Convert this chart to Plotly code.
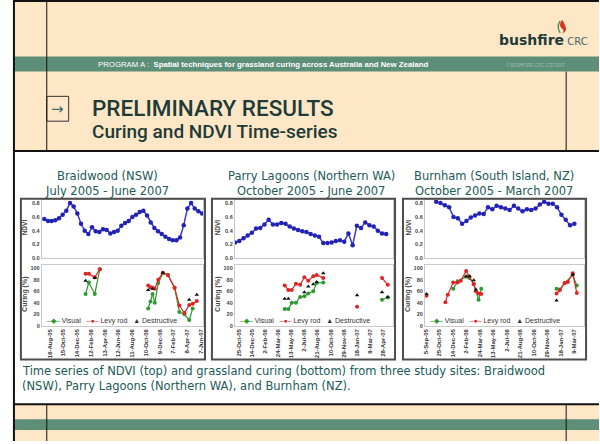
import plotly.graph_objects as go

W, H = 600, 444
def X(p): return p / W
def Y(p): return 1 - p / H

# ---------------- data ----------------
site_titles = ["Braidwood (NSW)", "Parry Lagoons (Northern WA)", "Burnham (South Island, NZ)"]
site_periods = ["July 2005 - June 2007", "October 2005 - June 2007", "October 2005 - March 2007"]

# Braidwood
braid_range = ["2005-07-13", "2007-06-16"]
braid_ticks = ["2005-08-16", "2005-10-15", "2005-12-14", "2006-02-12", "2006-04-13", "2006-06-12",
               "2006-08-11", "2006-10-10", "2006-12-09", "2007-02-07", "2007-04-08", "2007-06-07"]
braid_tick_labels = ["16-Aug-05", "15-Oct-05", "14-Dec-05", "12-Feb-06", "13-Apr-06", "12-Jun-06",
                     "11-Aug-06", "10-Oct-06", "9-Dec-06", "7-Feb-07", "8-Apr-07", "7-Jun-07"]
braid_ndvi_dates = ["2005-07-24", "2005-08-09", "2005-08-25", "2005-09-10", "2005-09-26", "2005-10-12",
                    "2005-10-28", "2005-11-13", "2005-11-29", "2005-12-15", "2005-12-31", "2006-01-16",
                    "2006-02-01", "2006-02-17", "2006-03-05", "2006-03-21", "2006-04-06", "2006-04-22",
                    "2006-05-08", "2006-05-24", "2006-06-09", "2006-06-25", "2006-07-11", "2006-07-27",
                    "2006-08-12", "2006-08-28", "2006-09-13", "2006-09-29", "2006-10-15", "2006-10-31",
                    "2006-11-16", "2006-12-02", "2006-12-18", "2007-01-03", "2007-01-19", "2007-02-04",
                    "2007-02-20", "2007-03-08", "2007-03-24", "2007-04-09", "2007-04-25", "2007-05-11",
                    "2007-05-27", "2007-06-12"]
braid_ndvi = [0.57, 0.54, 0.54, 0.55, 0.58, 0.63, 0.69, 0.80, 0.75, 0.65, 0.50, 0.40,
              0.35, 0.45, 0.39, 0.38, 0.42, 0.41, 0.36, 0.38, 0.40, 0.47, 0.51, 0.54,
              0.60, 0.63, 0.67, 0.69, 0.62, 0.52, 0.44, 0.39, 0.35, 0.31, 0.28, 0.26,
              0.26, 0.30, 0.48, 0.72, 0.80, 0.72, 0.68, 0.65]
braid_visual_dates = ["2006-01-20", "2006-02-03", "2006-03-01", "2006-03-23", "2006-06-01", "2006-10-20",
                      "2006-10-30", "2006-11-08", "2006-11-18", "2006-12-03", "2006-12-23", "2007-01-14",
                      "2007-02-12", "2007-03-05", "2007-03-27", "2007-04-17", "2007-05-02"]
braid_visual = [55, 75, 55, 98, None, 30, 42, 55, 40, 74, 91, 88, 66, 24, 20, 10, 30]
braid_levy_dates = ["2006-01-20", "2006-02-03", "2006-03-01", "2006-03-23", "2006-06-01", "2006-10-20",
                    "2006-10-30", "2006-11-08", "2006-11-18", "2006-12-03", "2006-12-23", "2007-01-14",
                    "2007-02-12", "2007-03-05", "2007-03-27", "2007-04-17", "2007-05-02", "2007-05-20"]
braid_levy = [90, 90, 84, 98, None, 70, 67, 66, 64, 80, 92, 88, 66, 35, 22, 36, 38, 43]
braid_destr_dates = ["2006-01-20", "2006-03-01", "2006-10-20", "2006-11-08", "2006-12-23", "2007-04-17", "2007-05-20"]
braid_destr = [78, 83, 62, 64, 92, 45, 54]

# Parry Lagoons
parry_range = ["2005-10-10", "2007-06-05"]
parry_ticks = ["2005-10-25", "2005-12-14", "2006-02-02", "2006-03-24", "2006-05-13", "2006-07-02",
               "2006-08-21", "2006-10-10", "2006-11-29", "2007-01-18", "2007-03-09", "2007-04-28"]
parry_tick_labels = ["25-Oct-05", "14-Dec-05", "2-Feb-06", "24-Mar-06", "13-May-06", "2-Jul-06",
                     "21-Aug-06", "10-Oct-06", "29-Nov-06", "18-Jan-07", "9-Mar-07", "28-Apr-07"]
parry_ndvi_dates = ["2005-10-11", "2005-10-27", "2005-11-12", "2005-11-28", "2005-12-14", "2005-12-30",
                    "2006-01-15", "2006-01-31", "2006-02-16", "2006-03-04", "2006-03-20", "2006-04-05",
                    "2006-04-21", "2006-05-07", "2006-05-23", "2006-06-08", "2006-06-24", "2006-07-10",
                    "2006-07-26", "2006-08-11", "2006-08-27", "2006-09-12", "2006-09-28", "2006-10-14",
                    "2006-10-30", "2006-11-15", "2006-12-01", "2006-12-17", "2007-01-02", "2007-01-18",
                    "2007-02-03", "2007-02-19", "2007-03-07", "2007-03-23", "2007-04-08", "2007-04-24",
                    "2007-05-10"]
parry_ndvi = [0.23, 0.25, 0.29, 0.33, 0.37, 0.43, 0.44, 0.49, 0.56, 0.49, 0.49, 0.51,
              0.50, 0.46, 0.43, 0.41, 0.39, 0.38, 0.35, 0.33, 0.31, 0.22, 0.22, 0.23,
              0.25, 0.26, 0.24, 0.36, 0.19, 0.47, 0.44, 0.52, 0.48, 0.46, 0.40, 0.36, 0.35]
parry_visual_dates = ["2006-04-18", "2006-05-02", "2006-05-15", "2006-05-31", "2006-06-16", "2006-07-02",
                      "2006-07-17", "2006-08-05", "2006-08-18", "2006-09-12", "2006-12-01", "2007-04-24",
                      "2007-05-16"]
parry_visual = [29, 29, 40, 40, 50, 51, 56, 60, 74, 75, None, 45, 49]
parry_levy_dates = ["2006-04-18", "2006-05-02", "2006-05-15", "2006-05-31", "2006-06-16", "2006-07-02",
                    "2006-07-17", "2006-08-05", "2006-08-18", "2006-09-12", "2006-11-01", "2007-01-19",
                    "2007-03-01", "2007-04-24", "2007-05-16"]
parry_levy = [70, 62, 62, 73, 71, 84, 78, 86, 88, 83, None, 33, None, 83, 71]
parry_destr_dates = ["2006-04-18", "2006-05-02", "2006-07-02", "2006-07-17", "2006-08-05", "2006-08-18",
                     "2006-09-12", "2007-01-19", "2007-04-24", "2007-05-16"]
parry_destr = [47, 47, 58, 68, 72, 76, 91, 53, 58, 50]

# Burnham
burn_range = ["2005-09-01", "2007-04-14"]
burn_ticks = ["2005-09-05", "2005-10-25", "2005-12-14", "2006-02-02", "2006-03-24", "2006-05-13",
              "2006-07-02", "2006-08-21", "2006-10-10", "2006-11-29", "2007-01-18", "2007-03-09"]
burn_tick_labels = ["5-Sep-05", "25-Oct-05", "14-Dec-05", "2-Feb-06", "24-Mar-06", "13-May-06",
                    "2-Jul-06", "21-Aug-06", "10-Oct-06", "29-Nov-06", "18-Jan-07", "9-Mar-07"]
burn_ndvi_dates = ["2005-10-13", "2005-10-29", "2005-11-14", "2005-11-30", "2005-12-16", "2006-01-01",
                   "2006-01-17", "2006-02-02", "2006-02-18", "2006-03-06", "2006-03-22", "2006-04-07",
                   "2006-04-23", "2006-05-09", "2006-05-25", "2006-06-10", "2006-06-26", "2006-07-12",
                   "2006-07-28", "2006-08-13", "2006-08-29", "2006-09-14", "2006-09-30", "2006-10-16",
                   "2006-11-01", "2006-11-17", "2006-12-03", "2006-12-19", "2007-01-04", "2007-01-20",
                   "2007-02-05", "2007-02-21", "2007-03-09"]
burn_ndvi = [0.82, 0.80, 0.77, 0.74, 0.60, 0.58, 0.50, 0.54, 0.59, 0.62, 0.65, 0.64,
             0.74, 0.71, 0.76, 0.74, 0.72, 0.70, 0.76, 0.72, 0.68, 0.71, 0.70, 0.72,
             0.78, 0.82, 0.79, 0.79, 0.74, 0.63, 0.56, 0.48, 0.50]
burn_visual_dates = ["2005-12-15", "2005-12-31", "2006-02-01", "2006-02-13", "2006-03-01", "2006-03-19",
                     "2006-03-29", "2006-08-01", "2007-01-02", "2007-01-14", "2007-02-01", "2007-03-03",
                     "2007-03-18"]
burn_visual = [64, 77, 85, 83, 73, 45, 64, None, 64, 63, 74, 88, 70]
burn_levy_dates = ["2005-09-07", "2005-10-10", "2005-11-16", "2005-11-25", "2005-12-15", "2005-12-31",
                   "2006-01-12", "2006-02-01", "2006-02-13", "2006-03-01", "2006-03-09", "2006-03-19",
                   "2006-03-29", "2006-08-01", "2007-01-02", "2007-01-14", "2007-02-01", "2007-02-13",
                   "2007-03-03", "2007-03-18"]
burn_levy = [52, None, 41, 54, 75, 75, 78, 95, 85, 72, 60, 56, 55, None, 56, 62, 74, 76, 91, 57]
burn_destr_dates = ["2005-09-07", "2006-02-01", "2006-02-13", "2006-03-01", "2006-03-09", "2007-01-02", "2007-03-03"]
burn_destr = [55, 86, 86, 79, 63, 44, 89]

ndvi_ticks = [0.0, 0.2, 0.4, 0.6, 0.8]
curing_ticks = [0, 20, 40, 60, 80, 100]

caption_lines = ["Time series of NDVI (top) and grassland curing (bottom) from three study sites: Braidwood",
                 "(NSW), Parry Lagoons (Northern WA), and Burnham (NZ)."]

sites = [
    dict(rng=braid_range, ticks=braid_ticks, labels=braid_tick_labels,
         nd=braid_ndvi_dates, nv=braid_ndvi, vd=braid_visual_dates, vv=braid_visual,
         ld=braid_levy_dates, lv=braid_levy, dd=braid_destr_dates, dv=braid_destr),
    dict(rng=parry_range, ticks=parry_ticks, labels=parry_tick_labels,
         nd=parry_ndvi_dates, nv=parry_ndvi, vd=parry_visual_dates, vv=parry_visual,
         ld=parry_levy_dates, lv=parry_levy, dd=parry_destr_dates, dv=parry_destr),
    dict(rng=burn_range, ticks=burn_ticks, labels=burn_tick_labels,
         nd=burn_ndvi_dates, nv=burn_ndvi, vd=burn_visual_dates, vv=burn_visual,
         ld=burn_levy_dates, lv=burn_levy, dd=burn_destr_dates, dv=burn_destr),
]

# ---------------- layout geometry (pixels) ----------------
frames = [(19, 204), (211, 395), (403, 587)]
plot_x = [(40, 202), (234, 393), (425, 585)]
title_cx = [106, 311, 494]
ndvi_y = (201, 260)
cur_y = (267, 328)
frame_y = (200, 362)

PEACH = "#fde7c6"
BAND = "#5d8e78"
DARK = "#1e3b38"
TEAL = "#215a58"
BLUE = "#2222b4"
GREEN = "#2e9a2e"
RED = "#e02424"

fig = go.Figure()
layout = dict(width=W, height=H, margin=dict(l=0, r=0, t=0, b=0),
              paper_bgcolor="white", plot_bgcolor="white", showlegend=False)

ytickfont = dict(size=5.5, family="Liberation Sans", color="#444", weight="bold")
xtickfont = dict(size=6, family="Liberation Sans", color="#333", weight="bold")
annotations = []
shapes = []

for k, s in enumerate(sites):
    a1, a2 = 2 * k + 1, 2 * k + 2
    xa1 = f"x{a1}" if a1 > 1 else "x"
    ya1 = f"y{a1}" if a1 > 1 else "y"
    xa2, ya2 = f"x{a2}", f"y{a2}"
    dom_x = [X(plot_x[k][0]), X(plot_x[k][1])]
    fig.add_trace(go.Scatter(x=s["nd"], y=s["nv"], mode="lines+markers", xaxis=xa1, yaxis=ya1,
                             line=dict(color="#3a3ad0", width=1.5),
                             marker=dict(color=BLUE, size=4.5)))
    fig.add_trace(go.Scatter(x=s["vd"], y=s["vv"], mode="lines+markers", xaxis=xa2, yaxis=ya2,
                             line=dict(color=GREEN, width=1.2), marker=dict(color=GREEN, size=4)))
    fig.add_trace(go.Scatter(x=s["ld"], y=s["lv"], mode="lines+markers", xaxis=xa2, yaxis=ya2,
                             line=dict(color=RED, width=1.2), marker=dict(color=RED, size=4)))
    fig.add_trace(go.Scatter(x=s["dd"], y=s["dv"], mode="markers", xaxis=xa2, yaxis=ya2,
                             marker=dict(color="#111", size=4, symbol="triangle-up")))
    common = dict(showgrid=False, zeroline=False, showline=True, mirror=True,
                  linecolor="#c9c9c9", linewidth=1, ticks="")
    layout["xaxis" if a1 == 1 else f"xaxis{a1}"] = dict(domain=dom_x, anchor=ya1, type="date",
                                                       range=s["rng"], showticklabels=False, **common)
    layout["yaxis" if a1 == 1 else f"yaxis{a1}"] = dict(domain=[Y(ndvi_y[1]), Y(ndvi_y[0])], anchor=xa1,
                                                       range=[0, 0.85], tickvals=ndvi_ticks,
                                                       tickformat=".1f", tickfont=ytickfont, **common)
    layout[f"xaxis{a2}"] = dict(domain=dom_x, anchor=ya2, type="date", range=s["rng"],
                                tickvals=s["ticks"], ticktext=s["labels"], tickangle=-90,
                                tickfont=xtickfont, **common)
    layout[f"yaxis{a2}"] = dict(domain=[Y(cur_y[1]), Y(cur_y[0])], anchor=xa2, range=[0, 105],
                                tickvals=curing_ticks, tickfont=ytickfont, **common)
    # frame
    shapes.append(dict(type="rect", xref="paper", yref="paper", x0=X(frames[k][0]), x1=X(frames[k][1]),
                       y0=Y(frame_y[1]), y1=Y(frame_y[0]), line=dict(color="#4d4d4d", width=2)))
    # axis titles
    tx = plot_x[k][0] - 17
    annotations.append(dict(text="NDVI", x=X(tx), y=Y(229), textangle=-90,
                            font=dict(size=6.5, color="#444", family="Liberation Sans", weight="bold")))
    annotations.append(dict(text="Curing (%)", x=X(tx), y=Y(296), textangle=-90,
                            font=dict(size=7, color="#444", family="Liberation Sans", weight="bold")))
    # legend
    annotations.append(dict(
        text=(f"<span style='color:{GREEN}'>–◆–</span> Visual   "
              f"<span style='color:{RED}'>–●–</span> Levy rod   ▲ Destructive"),
        x=X(plot_x[k][0] + 3), y=Y(323), xanchor="left",
        font=dict(size=7, color="#333", family="Liberation Sans")))
    # titles
    annotations.append(dict(text=site_titles[k], x=X(title_cx[k]), y=Y(177),
                            font=dict(size=11.5, color=TEAL, family="DejaVu Sans")))
    annotations.append(dict(text=site_periods[k], x=X(title_cx[k]), y=Y(192),
                            font=dict(size=11.5, color=TEAL, family="DejaVu Sans")))

# ---------------- slide decoration ----------------
def rect(x0, y0, x1, y1, fill=None, line=None, lw=0, layer="below"):
    d = dict(type="rect", xref="paper", yref="paper", x0=X(x0), x1=X(x1), y0=Y(y1), y1=Y(y0),
             layer=layer, line=dict(width=lw, color=line or "rgba(0,0,0,0)"))
    if fill:
        d["fillcolor"] = fill
    return d

def hline(x0, x1, y, color="#111", w=1.5):
    return dict(type="line", xref="paper", yref="paper", x0=X(x0), x1=X(x1), y0=Y(y), y1=Y(y),
                line=dict(color=color, width=w))

def vline(x, y0, y1, color="#111", w=1):
    return dict(type="line", xref="paper", yref="paper", x0=X(x), x1=X(x), y0=Y(y0), y1=Y(y1),
                line=dict(color=color, width=w))

def P(*segs):
    out = []
    for seg in segs:
        cmd, nums = seg[0], seg[1:]
        pts = [f"{X(nums[i]):.5f},{Y(nums[i + 1]):.5f}" for i in range(0, len(nums), 2)]
        out.append(cmd + " " + " ".join(pts))
    return " ".join(out)

deco = [
    rect(12, 0, 600, 152, fill=PEACH),
    rect(12, 57, 600, 72, fill=BAND),
    rect(12, 407, 600, 444, fill=PEACH),
    rect(12, 422, 600, 433, fill=BAND),
    vline(45, 0, 152), vline(567, 72, 152),
    vline(45, 407, 444), vline(567, 407, 444),
    hline(12, 600, 152, w=2), hline(12, 600, 407, w=2),
    hline(12, 600, 1, w=2),
    vline(12, 0, 444, w=2),
    rect(45, 97, 67, 122, line="#333", lw=1),
    # flame
    dict(type="path", xref="paper", yref="paper", fillcolor="#e0301e", line=dict(width=0),
         path=P(("M", 563, 20), ("Q", 559, 25, 562, 28), ("Q", 566, 31, 563, 34),
                ("Q", 569, 31, 566, 26), ("Q", 565, 23, 563, 20), ("Z",))),
    dict(type="path", xref="paper", yref="paper", line=dict(color="#3c8a50", width=1.3),
         path=P(("M", 561, 21), ("Q", 557, 27, 561, 33))),
]
shapes = deco + shapes

annotations += [
    dict(text="<b>bushfire</b><span style='font-size:10px;color:#4a6664'> CRC</span>",
         x=X(591), y=Y(40), xanchor="right", font=dict(size=14, color=DARK, family="DejaVu Sans")),
    dict(text="PROGRAM A :  <b>Spatial techniques for grassland curing across Australia and New Zealand</b>",
         x=X(94), y=Y(65), xanchor="left", font=dict(size=7.8, color="white", family="Liberation Sans")),
    dict(text="© BUSHFIRE CRC LTD 2007", x=X(505), y=Y(65), xanchor="left",
         font=dict(size=4.5, color="#9dbfae", family="Liberation Sans")),
    dict(text="→", x=X(56), y=Y(110), font=dict(size=15, color="#3f7070", family="DejaVu Sans")),
    dict(text="PRELIMINARY RESULTS", x=X(88), y=Y(109), xanchor="left",
         font=dict(size=22.5, color=DARK, family="Roboto", weight=500)),
    dict(text="Curing and NDVI Time-series", x=X(88), y=Y(132), xanchor="left",
         font=dict(size=19, color=DARK, family="Roboto", weight=500)),
    dict(text=caption_lines[0], x=X(18), y=Y(374), xanchor="left",
         font=dict(size=11.5, color=TEAL, family="DejaVu Sans")),
    dict(text=caption_lines[1], x=X(18), y=Y(389), xanchor="left",
         font=dict(size=11.5, color=TEAL, family="DejaVu Sans")),
]
for a in annotations:
    a.setdefault("xref", "paper")
    a.setdefault("yref", "paper")
    a.setdefault("showarrow", False)
    a.setdefault("xanchor", "center")
    a.setdefault("yanchor", "middle")

layout["shapes"] = shapes
layout["annotations"] = annotations
fig.update_layout(**layout)
fig.write_html("out.html", config={"displayModeBar": False},
               post_script="document.body.style.margin='0px';")
